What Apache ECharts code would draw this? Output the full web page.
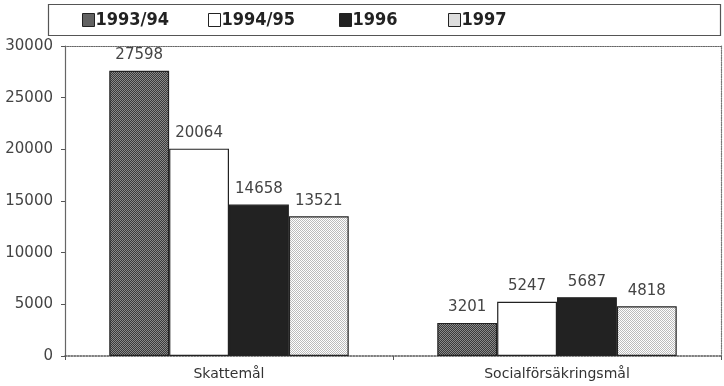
<!DOCTYPE html>
<html><head><meta charset="utf-8">
<script src="https://cdn.jsdelivr.net/npm/echarts@6/dist/echarts.min.js"></script>
<style>html,body{margin:0;padding:0;background:#fff}#c{width:724px;height:386px}</style>
</head><body><div id="c"></div>
<script>
var categories = ['Skattemål', 'Socialförsäkringsmål'];
var seriesNames = ['1993/94', '1994/95', '1996', '1997'];
var v1993_94 = [27598, 3201];
var v1994_95 = [20064, 5247];
var v1996 = [14658, 5687];
var v1997 = [13521, 4818];
var yTicks = [0, 5000, 10000, 15000, 20000, 25000, 30000];

function pattern(a, b) {
  var c = document.createElement('canvas');
  c.width = 2; c.height = 2;
  var g = c.getContext('2d');
  g.fillStyle = a; g.fillRect(0, 0, 2, 2);
  g.fillStyle = b; g.fillRect(0, 0, 1, 1); g.fillRect(1, 1, 1, 1);
  return {image: c, repeat: 'repeat'};
}
var fills = [pattern('#3a3a3a', '#8a8a8a'), '#ffffff', '#222222', pattern('#ffffff', '#bcbcbc')];
var values = [v1993_94, v1994_95, v1996, v1997];
var legendLeft = [77, 203, 334, 443];
var labelFont = 'DejaVu Sans, sans-serif';

var chart = echarts.init(document.getElementById('c'));
var series = seriesNames.map(function (n, i) {
  return {
    name: n, type: 'bar', data: values[i], barGap: '0%', barCategoryGap: '27%',
    itemStyle: {color: fills[i], borderColor: '#222', borderWidth: 1.2},
    label: {show: true, position: 'top', distance: 8, color: '#444', fontSize: 15,
      fontFamily: labelFont, backgroundColor: '#fff', padding: [0, 3]}
  };
});
var legends = seriesNames.map(function (n, i) {
  return {
    top: 6, left: legendLeft[i], itemWidth: 12, itemHeight: 13, icon: 'rect',
    data: [{name: n, itemStyle: {color: i === 1 ? '#fff' : fills[i], borderColor: '#222', borderWidth: 1}}],
    textStyle: {fontFamily: 'DejaVu Sans Condensed, sans-serif', fontWeight: 'bold', fontSize: 18,
      color: '#222', padding: [0, 0, 0, -4]}
  };
});
chart.setOption({
  animation: false,
  graphic: [{type: 'rect', left: 46, top: 2, shape: {width: 672, height: 31},
    style: {fill: 'none', stroke: '#555', lineWidth: 1.2}}],
  legend: legends,
  grid: {left: 65, right: 3, top: 46, bottom: 30},
  xAxis: [{
    type: 'category', data: categories,
    axisLine: {lineStyle: {color: '#555', type: 'dotted', width: 1.5}},
    axisTick: {show: true, length: 4, lineStyle: {color: '#555', type: 'solid'}},
    axisLabel: {color: '#333', fontSize: 14, fontFamily: labelFont, margin: 11}
  }, {
    type: 'category', data: categories, position: 'top',
    axisLine: {show: true, onZero: false, lineStyle: {color: '#666', type: 'dotted', width: 1.2}},
    axisTick: {show: false}, axisLabel: {show: false}
  }],
  yAxis: [{
    type: 'value', min: 0, max: 30000, interval: 5000,
    axisLine: {show: true, lineStyle: {color: '#666', width: 1.2}},
    axisTick: {show: true, length: 4, lineStyle: {color: '#555'}},
    splitLine: {show: false},
    axisLabel: {color: '#444', fontSize: 15, fontFamily: labelFont, margin: 12,
      formatter: function (v) { return yTicks.indexOf(v) >= 0 ? String(v) : ''; }}
  }, {
    type: 'value', min: 0, max: 30000, interval: 5000, position: 'right',
    axisLine: {show: true, onZero: false, lineStyle: {color: '#777', type: 'dotted', width: 1.2}},
    axisTick: {show: false}, axisLabel: {show: false}, splitLine: {show: false}
  }],
  series: series
});
</script></body></html>
